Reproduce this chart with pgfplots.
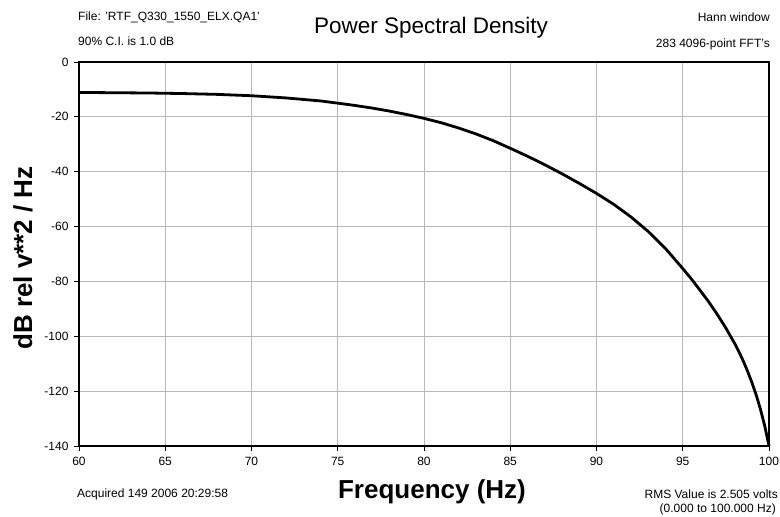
\documentclass[border=0pt]{standalone}
\usepackage{fontspec}
\setmainfont{Liberation Sans}
\usepackage{pgfplots}
\pgfplotsset{compat=1.18}
\begin{document}
\begin{tikzpicture}[x=1pt,y=1pt]
\useasboundingbox (0,0) rectangle (780,517);
\begin{axis}[
  at={(79pt,71pt)}, anchor=south west,
  scale only axis, width=690pt, height=384pt,
  xmin=60, xmax=100, ymin=-140, ymax=0,
  xtick={60,65,...,100},
  ytick={-140,-120,-100,-80,-60,-40,-20,0},
  yticklabels={-140,-120,-100,-80,-60,-40,-20,0},
  xticklabels={60,65,70,75,80,85,90,95,100},
  xtick pos=bottom, ytick pos=left,
  tick align=outside, major tick length=5pt,
  tick style={black, line width=0.8pt},
  grid=major, major grid style={black!28, line width=0.8pt},
  axis line style={black, line width=1.2pt},
  ticklabel style={font=\fontsize{12}{14}\selectfont},
  xticklabel style={yshift=-3pt},
  yticklabel style={xshift=-2pt},
  clip=false,
]
\addplot[black, line width=2.8pt, line join=round] coordinates {
(60,-11.1) (62,-11.2) (64,-11.3) (66,-11.5) (68,-11.8) (70,-12.3)
(72,-13.1) (74,-14.2) (75,-15.0) (76,-15.85) (77,-16.8) (78,-17.9)
(79,-19.15) (80,-20.55) (81,-22.15) (82,-24.05) (83,-26.2) (84,-28.65)
(85,-31.45) (86,-34.35) (87,-37.45) (88,-40.75) (89,-44.25) (90,-47.9)
(91,-51.9) (92,-56.5) (93,-61.8) (94,-68.0) (95,-75.3) (95.5,-79.1)
(96,-83.2) (96.5,-87.4) (97,-92.0) (97.5,-97.0) (98,-102.5) (98.25,-105.55)
(98.5,-108.9) (98.75,-112.6) (99,-116.7) (99.25,-121.25) (99.5,-126.5)
(99.75,-132.6) (100,-140)
};
\end{axis}
\begin{scope}[every node/.style={inner sep=0pt, font=\fontsize{12}{14}\selectfont}]
\node[anchor=west] at (78,500) {File: 'RTF\_Q330\_1550\_ELX.QA1'};
\node[anchor=west] at (78,476) {90\% C.I. is 1.0 dB};
\node[anchor=east] at (770,500) {Hann window};
\node[anchor=east] at (770,473) {283 4096-point FFT's};
\node[anchor=west] at (77,23) {Acquired 149 2006 20:29:58};
\node[anchor=east] at (778,23) {RMS Value is 2.505 volts};
\node[anchor=east] at (776,8) {(0.000 to 100.000 Hz)};
\end{scope}
\node[inner sep=0pt, font=\fontsize{22.5}{26}\selectfont] at (431,489) {Power Spectral Density};
\node[inner sep=0pt, font=\fontsize{26}{30}\selectfont\bfseries] at (432,25) {Frequency (Hz)};
\node[inner sep=0pt, rotate=90, font=\fontsize{26}{30}\selectfont\bfseries] at (23,259) {dB rel v**2 / Hz};
\end{tikzpicture}
\end{document}
